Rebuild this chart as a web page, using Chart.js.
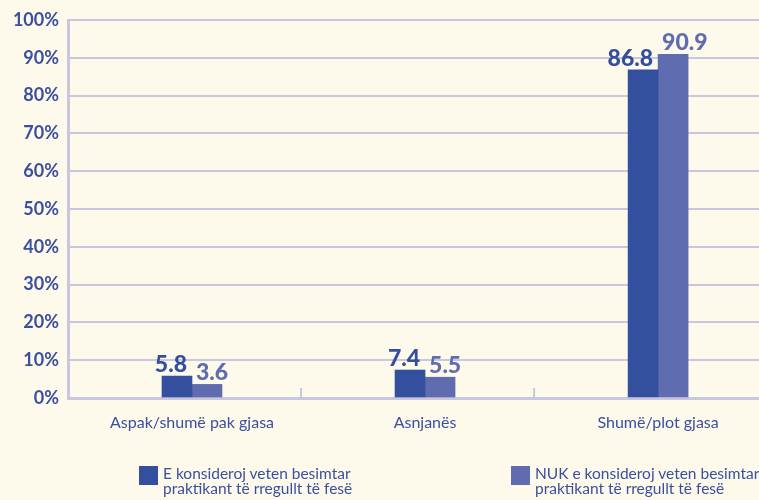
<!DOCTYPE html>
<html>
<head>
<meta charset="utf-8">
<script src="https://cdn.jsdelivr.net/npm/chart.js@4"></script>
<style>
  html, body { margin: 0; padding: 0; background: #fefaeb; overflow: hidden; }
  #wrap { position: relative; width: 759px; height: 500px; }
  .legend-item { position: absolute; top: 466px; white-space: nowrap; }
  .legend-box { position: absolute; left: 0; top: 0; width: 19px; height: 19px; }
  .legend-text { position: absolute; left: 24px; top: 0; font: 15.5px Lato, sans-serif; line-height: 15px; color: #3a4f9f; }
</style>
</head>
<body>
<div id="wrap">
  <canvas id="chart" width="759" height="500"></canvas>
  <div class="legend-item" style="left:139px"><div class="legend-box" style="background:#344f9e"></div><div class="legend-text" id="lg0"></div></div>
  <div class="legend-item" style="left:511px"><div class="legend-box" style="background:#5f6db0"></div><div class="legend-text" id="lg1"></div></div>
</div>
<script>
// Kategoritë dhe vlerat (%)
const categories = ['Aspak/shumë pak gjasa', 'Asnjanës', 'Shumë/plot gjasa'];
const besimtarValues = [5.8, 7.4, 86.8];
const joBesimtarValues = [3.6, 5.5, 90.9];
const seriesNames = [
  ['E konsideroj veten besimtar', 'praktikant të rregullt të fesë'],
  ['NUK e konsideroj veten besimtar', 'praktikant të rregullt të fesë']
];
const yTicks = [0, 10, 20, 30, 40, 50, 60, 70, 80, 90, 100];

const textColor = '#3a4f9f';
const gridColor = '#c9c7df';
const xMin = -0.532; // kategoritë nuk janë të qendërzuara në origjinal

// Etiketat me vlerat mbi shtyllat
const valueLabelsPlugin = {
  id: 'valueLabels',
  afterDatasetsDraw(chart) {
    const ctx = chart.ctx;
    ctx.save();
    ctx.font = '900 23px Lato, sans-serif';
    ctx.textBaseline = 'alphabetic';
    chart.data.datasets.forEach((ds, di) => {
      const meta = chart.getDatasetMeta(di);
      meta.data.forEach((bar, i) => {
        const v = ds.data[i].y;
        ctx.fillStyle = ds.backgroundColor;
        if (di === 0) {
          ctx.textAlign = 'right';
          ctx.fillText(v.toFixed(1), bar.x + bar.width / 2 - 5, bar.y - 4);
        } else {
          ctx.textAlign = 'left';
          ctx.fillText(v.toFixed(1), bar.x - bar.width / 2 + 4, bar.y - 4);
        }
      });
    });
    ctx.restore();
  }
};

// Vijat e vogla ndarëse mes kategorive
const dividerPlugin = {
  id: 'dividers',
  afterDraw(chart) {
    const ctx = chart.ctx;
    const x = chart.scales.x;
    const bottom = chart.chartArea.bottom;
    ctx.save();
    ctx.strokeStyle = gridColor;
    ctx.lineWidth = 2;
    for (let i = 0; i < categories.length - 1; i++) {
      const px = x.getPixelForValue(i + 1 + xMin);
      ctx.beginPath();
      ctx.moveTo(px, bottom - 10);
      ctx.lineTo(px, bottom);
      ctx.stroke();
    }
    ctx.restore();
  }
};

document.getElementById('lg0').innerHTML = seriesNames[0].join('<br>');
document.getElementById('lg1').innerHTML = seriesNames[1].join('<br>');

new Chart(document.getElementById('chart'), {
  type: 'bar',
  data: {
    datasets: [
      {
        label: seriesNames[0].join(' '),
        data: besimtarValues.map((v, i) => ({ x: i, y: v })),
        backgroundColor: '#344f9e',
        barThickness: 30
      },
      {
        label: seriesNames[1].join(' '),
        data: joBesimtarValues.map((v, i) => ({ x: i, y: v })),
        backgroundColor: '#5f6db0',
        barThickness: 30
      }
    ]
  },
  options: {
    responsive: false,
    animation: false,
    layout: { padding: { top: 20, left: 0, right: 0, bottom: 0 } },
    plugins: {
      legend: { display: false },
      tooltip: { enabled: false }
    },
    scales: {
      x: {
        type: 'linear',
        offset: false,
        min: xMin,
        max: 2.433,
        afterBuildTicks: (scale) => { scale.ticks = categories.map((c, i) => ({ value: i })); },
        afterFit: (scale) => { scale.height = 102; },
        grid: { display: false },
        border: { display: true, color: gridColor, width: 3 },
        ticks: {
          padding: 7,
          color: textColor,
          font: { family: 'Lato', size: 16 },
          callback: (v) => categories[v]
        }
      },
      y: {
        min: 0,
        max: 100,
        afterBuildTicks: (scale) => { scale.ticks = yTicks.map(v => ({ value: v })); },
        afterFit: (scale) => { scale.width = 68; },
        grid: { color: gridColor, lineWidth: 2, drawTicks: false },
        border: { display: true, color: gridColor, width: 3 },
        ticks: {
          padding: 9,
          color: textColor,
          font: { family: 'Lato', size: 18, weight: 'bold' },
          callback: (v) => v + '%'
        }
      }
    }
  },
  plugins: [valueLabelsPlugin, dividerPlugin]
});
</script>
</body>
</html>
